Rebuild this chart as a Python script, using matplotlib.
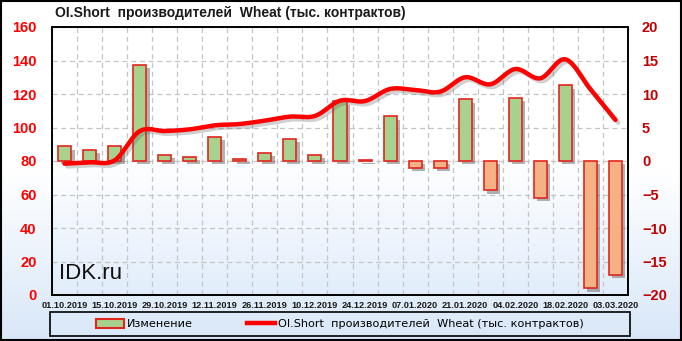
import numpy as np
import matplotlib
matplotlib.use('Agg')
import matplotlib.pyplot as plt
import matplotlib.patheffects as pe
from matplotlib.patches import Rectangle
from matplotlib.lines import Line2D
from matplotlib.colors import LinearSegmentedColormap

# weekly report dates
dates = ['01.10.2019', '08.10.2019', '15.10.2019', '22.10.2019', '29.10.2019',
         '05.11.2019', '12.11.2019', '19.11.2019', '26.11.2019', '03.12.2019',
         '10.12.2019', '17.12.2019', '24.12.2019', '31.12.2019', '07.01.2020',
         '14.01.2020', '21.01.2020', '28.01.2020', '04.02.2020', '11.02.2020',
         '18.02.2020', '25.02.2020', '03.03.2020']

# weekly change (right axis)
change = [2.2, 1.7, 2.2, 14.4, 0.9, 0.6, 3.6, 0.3, 1.2, 3.3, 0.9, 8.9,
          0.2, 6.7, -1.0, -1.0, 9.2, -4.4, 9.4, -5.5, 11.3, -19.0, -17.0]

# OI short of producers (left axis)
oi_short = [78.4, 79.2, 80.4, 97.8, 97.9, 98.9, 101.3, 102.1, 104.1, 106.5,
            106.9, 116.0, 115.8, 123.0, 122.4, 121.4, 130.0, 125.8, 134.9,
            129.4, 140.7, 122.8, 104.5]

title = 'OI.Short  производителей  Wheat (тыс. контрактов)'
bar_label = 'Изменение'


def smooth(xv, yv, n=20):
    # catmull-rom curve through the points, only for drawing
    xv = np.asarray(xv, float)
    yv = np.asarray(yv, float)
    p = np.concatenate([[2 * yv[0] - yv[1]], yv, [2 * yv[-1] - yv[-2]]])
    xs, ys = [], []
    t = np.linspace(0, 1, n, endpoint=False)
    for i in range(len(yv) - 1):
        p0, p1, p2, p3 = p[i], p[i + 1], p[i + 2], p[i + 3]
        ys.append(0.5 * (2 * p1 + (-p0 + p2) * t + (2 * p0 - 5 * p1 + 4 * p2 - p3) * t ** 2
                         + (-p0 + 3 * p1 - 3 * p2 + p3) * t ** 3))
        xs.append(xv[i] + (xv[i + 1] - xv[i]) * t)
    xs.append([xv[-1]])
    ys.append([yv[-1]])
    return np.concatenate(xs), np.concatenate(ys)


fig = plt.figure(figsize=(6.82, 3.41), dpi=100)

# figure background gradient
bg = fig.add_axes([0, 0, 1, 1])
bg.set_zorder(-10)
bg_cmap = LinearSegmentedColormap.from_list('bg', ['#d8e7f8', '#ffffff', '#ffffff'])
bg.imshow(np.linspace(0, 1, 256).reshape(-1, 1), cmap=bg_cmap, aspect='auto',
          origin='lower', extent=[0, 1, 0, 1])
bg.set_xlim(0, 1)
bg.set_ylim(0, 1)
bg.axis('off')

ax = fig.add_axes([52 / 682, 1 - 295 / 341, 576 / 682, 268 / 341])
ax2 = ax.twinx()
ax.yaxis.tick_right()
ax2.yaxis.tick_left()

x = np.arange(len(dates))

# plot area gradient
pa_cmap = LinearSegmentedColormap.from_list('pa', ['#e1edfb', '#ffffff', '#ffffff'])
ax.imshow(np.linspace(0, 1, 256).reshape(-1, 1), cmap=pa_cmap, aspect='auto',
          origin='lower', extent=[0, 1, 0, 1], transform=ax.transAxes, zorder=0)

# bars (right axis)
colors = ['#a9d18e' if v >= 0 else '#f4b183' for v in change]
shadow = [pe.SimplePatchShadow(offset=(2.5, -2.5), shadow_rgbFace='#555555', alpha=0.45),
          pe.Normal()]
bars = ax.bar(x, change, width=0.52, color=colors, edgecolor='#e3261d',
              linewidth=1.2, zorder=3)
for b in bars:
    b.set_path_effects(shadow)

ax.set_xlim(-0.5, len(dates) - 0.5)
ax.set_ylim(-20, 20)
ax.set_yticks(np.arange(-20, 21, 5))
ax.tick_params(axis='y', length=0, pad=10, labelcolor='#c00000')
for lab in ax.get_yticklabels():
    lab.set_fontfamily('Liberation Sans')
    lab.set_fontweight('bold')
    lab.set_fontsize(10.5)

ax.set_xticks(x[::2])
ax.set_xticklabels(dates[::2], fontfamily='Liberation Sans', fontweight='bold',
                   fontsize=6.6, color='#1a1a1a')
ax.set_xticks(np.arange(-0.5, len(dates), 1), minor=True)
ax.tick_params(axis='x', which='both', length=0, pad=4)

ax.set_axisbelow(True)
ax.grid(axis='y', which='major', color='#c4c4c4', linestyle=(0, (4, 3)), linewidth=0.9)
ax.grid(axis='x', which='minor', color='#c4c4c4', linestyle=(0, (4, 3)), linewidth=0.9)

# line (left axis)
sx, sy = smooth(x, oi_short)
ax2.plot(sx, sy, color='#ff0000', linewidth=3.2, solid_capstyle='round', zorder=4,
         path_effects=[pe.SimpleLineShadow(offset=(2, -2), shadow_color='#666666', alpha=0.3),
                       pe.Normal()])
ax2.set_ylim(0, 160)
ax2.set_yticks(np.arange(0, 161, 20))
ax2.tick_params(axis='y', length=0, pad=11, labelcolor='#ff0000')
for lab in ax2.get_yticklabels():
    lab.set_fontfamily('Liberation Sans')
    lab.set_fontweight('bold')
    lab.set_fontsize(10.5)

for a in (ax, ax2):
    for s in a.spines.values():
        s.set_color('black')
        s.set_linewidth(1.2)

ax2.text(0.012, 0.06, 'IDK.ru', transform=ax2.transAxes, fontsize=16,
         fontfamily='Liberation Sans', color='#111111', va='baseline', zorder=5)

fig.text(55 / 682, 1 - 13 / 341, title, ha='left', va='center', fontsize=10,
         fontweight='bold', fontfamily='Liberation Sans', color='#1a1a1a')

# legend
fig.patches.append(Rectangle((50 / 682, 1 - 336 / 341), 580 / 682, 24 / 341,
                             transform=fig.transFigure, facecolor='none',
                             edgecolor='black', linewidth=1.2))
handles = [Rectangle((0, 0), 1, 1, facecolor='#a9d18e', edgecolor='#e3261d', linewidth=1.5),
           Line2D([], [], color='#ff0000', linewidth=3.2)]
fig.legend(handles, [bar_label, title], loc='center', ncol=2,
           bbox_to_anchor=(340 / 682, 1 - 324 / 341), frameon=False,
           prop={'family': 'DejaVu Sans', 'size': 8.1}, handlelength=2.5,
           handleheight=0.9, handletextpad=0.25, columnspacing=4.8)

# outer border
fig.patches.append(Rectangle((0.002, 0.003), 0.996, 0.994, transform=fig.transFigure,
                             facecolor='none', edgecolor='black', linewidth=1.5))

fig.savefig('out.png', dpi=100)
